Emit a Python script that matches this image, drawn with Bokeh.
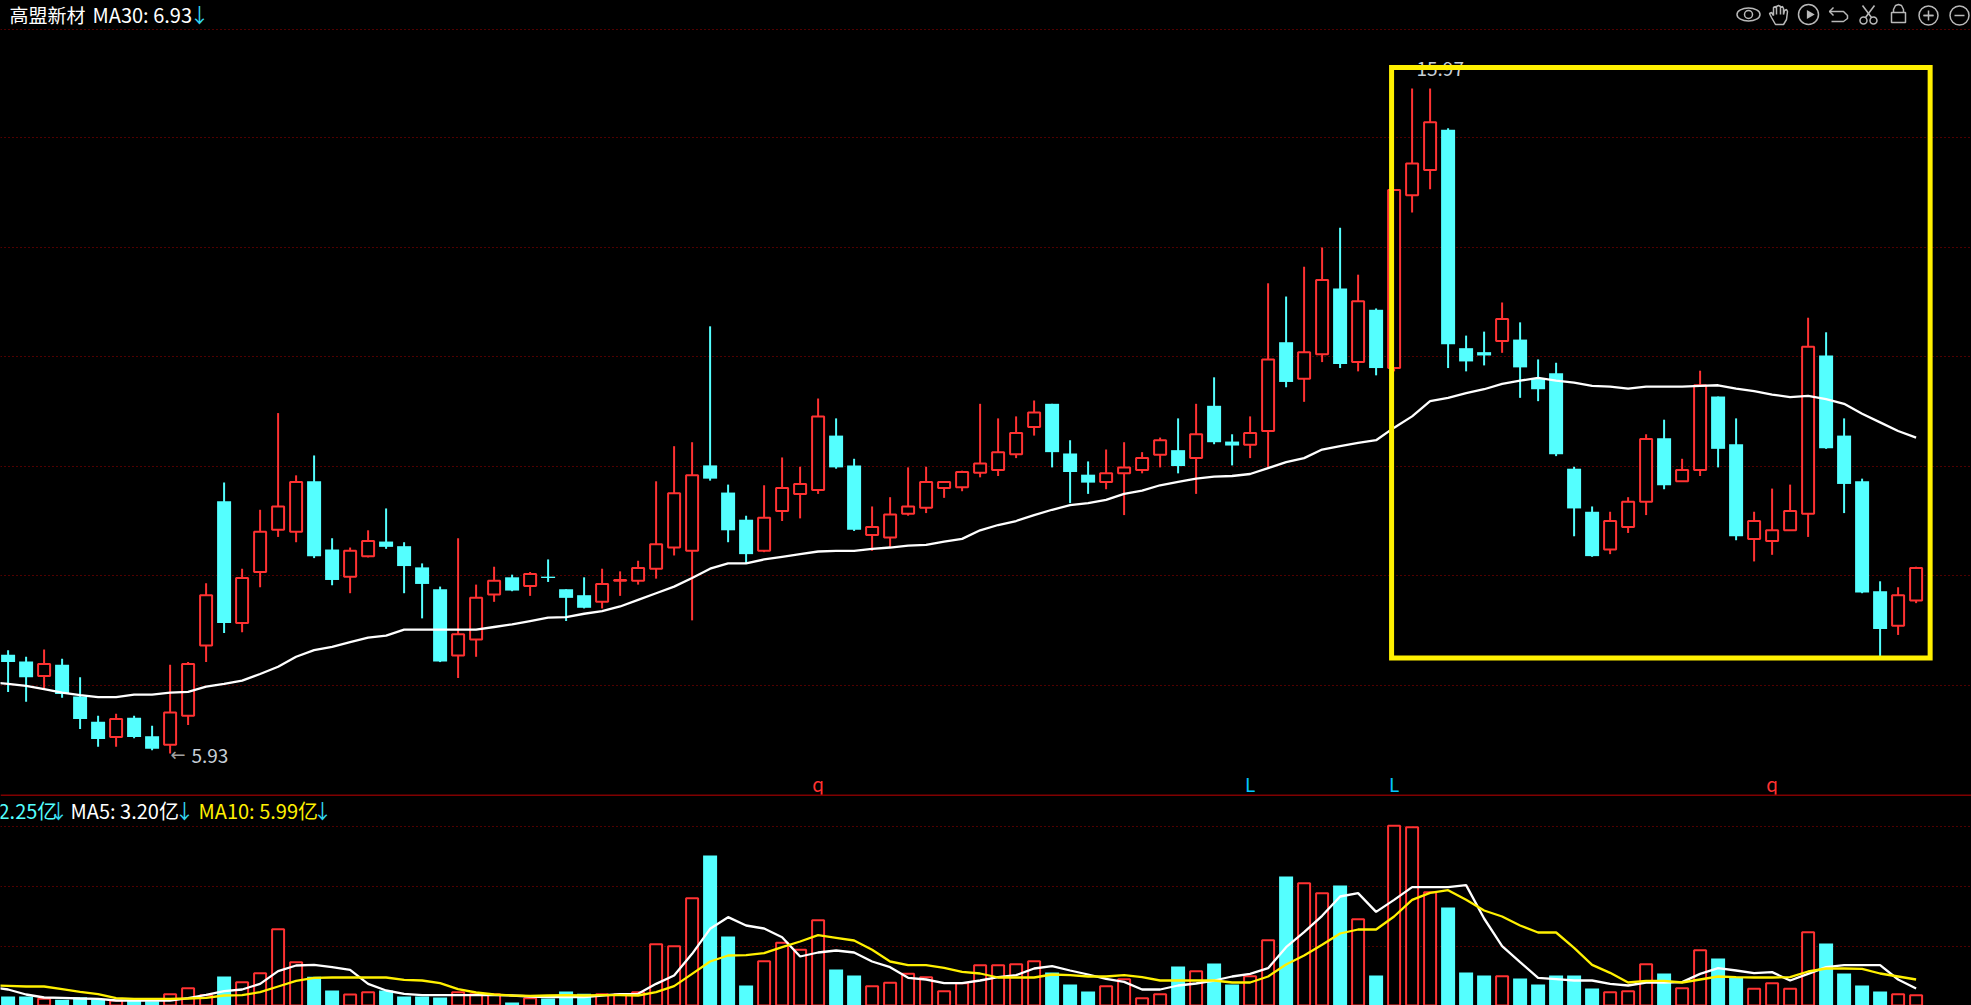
from math import pi
from bokeh.plotting import figure
from bokeh.layouts import column
from bokeh.models import ColumnDataSource, FixedTicker, Range1d, Span
from bokeh.core.properties import value
from bokeh.embed import file_html
from bokeh.resources import INLINE

# ---- data: daily candles ----
opens = [7.42,7.32,7.10,7.27,6.79,6.41,6.18,6.47,6.19,6.06,6.50,7.56,9.74,7.90,8.67,9.31,9.28,10.04,9.01,8.60,8.91,9.13,9.06,8.74,8.41,7.41,7.65,8.33,8.59,8.46,8.60,8.41,8.32,8.22,8.54,8.54,8.72,
         9.04,8.99,10.28,9.87,9.46,8.99,9.59,9.85,9.91,10.73,10.28,9.23,9.19,9.55,9.64,9.94,9.95,10.17,10.21,10.45,10.86,11.21,10.46,10.14,10.03,10.16,10.21,10.44,10.51,10.39,11.18,10.64,10.59,10.80,12.14,11.59,
         11.96,12.95,11.84,12.63,11.75,14.36,14.74,15.35,12.05,11.99,12.16,12.18,
         11.59,11.67,10.23,9.58,9.01,9.35,9.73,10.69,10.04,10.21,11.32,10.60,9.17,9.14,9.30,9.55,11.94,10.73,10.04,8.38,7.86,8.24]
closes = [7.31,7.08,7.28,6.83,6.45,6.15,6.45,6.18,6.00,6.55,7.28,8.32,7.90,8.58,9.28,9.66,10.03,8.91,8.55,8.99,9.14,9.05,8.76,8.49,7.32,7.73,8.28,8.54,8.39,8.64,8.58,8.28,8.13,8.49,8.55,8.73,9.09,
          9.86,10.13,10.08,9.30,8.94,9.49,9.94,10.00,11.02,10.25,9.31,9.35,9.54,9.66,10.03,10.03,10.18,10.31,10.48,10.77,11.08,10.48,10.18,10.02,10.16,10.25,10.39,10.66,10.27,10.75,10.63,10.58,10.77,11.88,11.54,11.99,
          13.08,11.81,12.76,11.75,14.44,14.84,15.46,12.11,11.85,11.94,12.49,11.76,
          11.43,10.45,9.63,8.91,9.44,9.73,10.68,9.98,10.21,11.49,10.53,9.21,9.44,9.30,9.59,12.07,10.54,10.00,8.36,7.81,8.32,8.73]
highs = [7.49,7.39,7.50,7.36,7.08,6.50,6.53,6.50,6.35,7.27,7.31,8.50,10.02,8.72,9.61,11.07,10.13,10.43,9.18,9.04,9.30,9.63,9.12,8.80,8.45,9.18,8.48,8.75,8.63,8.67,8.86,8.41,8.59,8.72,8.68,8.84,10.04,
         10.57,10.63,12.38,9.99,9.52,9.98,10.40,10.26,11.29,10.99,10.38,9.66,9.80,10.25,10.26,10.03,10.20,11.21,10.99,11.02,11.26,11.21,10.66,10.34,10.52,10.63,10.48,10.70,10.99,11.21,11.61,10.75,11.02,13.03,12.83,13.28,
         13.57,13.87,13.16,12.65,14.44,15.97,15.97,15.37,12.24,12.30,12.74,12.44,
         11.88,11.83,10.26,9.66,9.58,9.80,10.75,10.97,10.38,11.71,11.32,10.99,9.58,9.93,9.99,12.51,12.29,10.99,10.08,8.53,8.44,8.75]
lows = [6.86,6.71,6.91,6.77,6.30,6.03,6.03,6.16,5.98,5.93,6.36,7.31,7.75,7.76,8.44,9.20,9.12,8.88,8.47,8.35,8.89,9.02,8.35,7.97,7.31,7.07,7.39,8.22,8.38,8.31,8.52,7.93,8.12,8.12,8.31,8.48,8.57,
        8.92,7.94,10.05,9.12,8.80,8.97,9.44,9.48,9.85,10.23,9.29,8.99,9.04,9.52,9.56,9.79,9.89,10.10,10.12,10.39,10.73,10.25,9.71,9.85,9.92,9.53,10.16,10.25,10.16,9.85,10.60,10.28,10.39,10.25,11.46,11.24,
        11.84,11.75,11.70,11.64,11.70,14.10,14.45,11.75,11.70,11.79,11.98,11.30,
        11.25,10.42,9.21,8.90,8.94,9.26,9.53,9.92,10.03,10.12,10.25,9.15,8.83,8.93,9.29,9.20,10.53,9.56,8.35,7.40,7.72,8.20]
# leading value belongs to the session just before the visible window
ma30 = [7.01,
        6.98,6.95,6.90,6.85,6.81,6.78,6.78,6.82,6.82,6.85,6.86,6.94,6.98,7.03,7.13,7.24,7.39,7.49,7.54,7.61,7.68,7.71,7.80,7.80,7.80,7.80,7.80,7.84,7.88,7.93,7.98,7.99,8.04,8.08,8.15,8.25,8.35,
        8.45,8.58,8.72,8.80,8.80,8.86,8.90,8.94,8.98,8.99,8.99,9.02,9.04,9.07,9.08,9.13,9.17,9.30,9.38,9.44,9.53,9.61,9.68,9.71,9.76,9.85,9.90,9.98,10.03,10.08,10.11,10.12,10.15,10.24,10.33,10.39,
        10.52,10.57,10.62,10.66,10.85,11.02,11.25,11.30,11.37,11.43,11.51,11.56,11.60,11.56,11.53,11.48,11.47,11.44,11.47,11.47,11.47,11.48,11.49,11.44,11.40,11.35,11.31,11.33,11.28,11.21,11.06,10.93,10.80,10.70]
# ---- data: turnover (亿) ----
volumes = [1.89,1.89,1.40,1.19,1.75,1.19,1.05,1.05,0.91,2.38,3.64,2.17,6.09,4.90,6.79,16.03,9.10,6.02,3.15,2.31,2.80,3.15,1.89,1.89,1.68,2.80,2.38,2.38,0.63,1.54,1.47,2.94,2.45,2.38,2.38,2.80,12.88,
           12.46,22.54,31.50,14.49,4.20,9.31,13.16,11.69,17.92,7.56,6.30,4.06,4.76,6.65,5.95,3.01,4.69,8.47,8.47,8.68,9.31,6.93,4.41,2.94,4.06,5.53,1.54,2.38,8.19,7.21,8.82,4.41,6.16,13.72,27.09,25.69,
           23.59,25.20,18.13,6.30,37.73,37.45,23.80,20.58,6.93,6.30,6.16,5.67,4.41,6.30,6.30,3.57,2.80,3.01,8.68,6.72,3.64,11.62,9.87,5.95,3.50,4.69,3.50,15.40,13.02,6.72,4.20,2.94,2.38,2.17]
vol_ma5 = [3.85,
           3.36,2.31,1.68,1.61,1.47,1.40,1.05,1.05,1.05,1.05,1.54,2.24,3.01,3.36,4.55,7.21,8.40,8.54,8.05,7.49,4.55,3.15,2.45,2.17,2.17,2.17,2.17,2.17,2.10,1.89,1.75,1.75,1.75,2.10,2.38,2.45,4.55,
           6.30,10.85,16.10,18.55,16.80,16.17,14.35,10.29,11.13,11.55,11.13,9.24,8.05,5.81,5.46,4.69,4.69,5.25,5.95,6.37,7.77,8.26,7.35,6.51,5.60,4.97,3.36,3.36,4.20,4.62,5.25,6.09,6.65,7.84,12.25,15.40,
           18.83,22.89,23.59,19.67,22.19,24.85,24.85,24.85,25.27,18.27,12.46,9.10,5.81,5.53,5.25,5.25,4.55,4.20,4.83,4.83,4.90,6.65,7.84,7.35,6.79,7.00,5.25,6.65,8.05,8.47,8.47,8.47,5.46,3.57]
vol_ma10 = [4.27,
            4.13,3.99,3.99,3.43,2.87,2.38,1.54,1.40,1.40,1.40,1.47,1.61,2.10,2.17,2.80,3.99,5.18,5.81,5.88,5.88,5.88,5.88,5.39,5.25,4.69,3.43,2.73,2.31,2.10,2.03,2.10,2.17,2.10,2.17,2.17,2.10,2.80,
            4.06,6.65,9.24,10.50,10.57,10.99,12.25,13.44,14.77,14.21,13.65,11.69,9.24,8.47,8.47,7.91,7.07,6.72,5.88,5.88,5.88,6.51,6.37,6.09,6.09,6.37,5.95,5.25,5.25,5.25,5.25,4.83,4.83,6.09,8.61,10.50,
            12.74,15.12,15.96,15.96,18.69,22.19,23.66,24.22,22.19,19.95,18.69,16.80,15.33,15.33,12.11,8.54,6.86,4.83,5.18,5.18,4.83,5.46,6.09,5.95,5.88,5.88,5.95,7.14,7.77,7.77,7.70,6.72,6.09,5.46]
# ---- data: marks and labels ----
signal_index = [45, 69, 77, 98]
signal_text = ["q", "L", "L", "q"]
signal_color = ["#ff3232", "#00c8ff", "#00c8ff", "#ff3232"]
price_grid = [16.86, 15.23, 13.57, 11.92, 10.26, 8.61, 6.95]
volume_grid = [12.32, 24.92, 37.52]
low_label = "5.93"
high_label = "15.97"
box_left, box_right, box_top, box_bottom = [76.86], [106.78], [16.29], [7.37]

RED, CYAN, GRID = "#ff3232", "#54ffff", "#a00000"
FONT = value("Noto Sans CJK SC")
W, H1, H2 = 1971, 796, 209
N = len(opens)
idx = list(range(N))
up = [c >= o for o, c in zip(opens, closes)]

x_start, x_end = (0 - 7.6) / 18, (W - 7.6) / 18
P_TOP, P_STEP = 17.30, 0.0151
V_STEP = 0.21
def X(px): return (px - 7.6) / 18
def Y(py): return P_TOP - py * P_STEP
def V(py): return (1005 - py) * V_STEP

def base_fig(h, y0, y1):
    f = figure(width=W, height=h, x_range=Range1d(x_start, x_end), y_range=Range1d(y0, y1),
               output_backend="svg", toolbar_location=None, min_border=0,
               background_fill_color="#000000", border_fill_color="#000000", outline_line_color=None,
               styles={"background-color": "#000000"})
    f.xaxis.visible = False
    f.yaxis.visible = False
    f.xgrid.visible = False
    f.ygrid.grid_line_color = GRID
    f.ygrid.grid_line_dash = "1 3"
    f.ygrid.grid_line_width = 1
    return f

def label(f, px, y, text, color, size="20px", font=FONT, align="left", angle=0):
    f.text(x=[X(px)], y=[y], text=[text], text_color=color, text_font=font, text_font_size=size,
           text_align=align, text_baseline="middle", angle=angle)

def icon_path(f, pts, color):
    f.line(x=[X(a) for a, _ in pts], y=[Y(b) for _, b in pts], line_color=color, line_width=1.5)

# ---------- price pane ----------
p1 = base_fig(H1, Y(H1), P_TOP)
p1.ygrid.ticker = FixedTicker(ticks=price_grid)

red = ColumnDataSource(dict(x=[i for i in idx if up[i]],
                            top=[closes[i] for i in idx if up[i]], bottom=[opens[i] for i in idx if up[i]],
                            high=[highs[i] for i in idx if up[i]], low=[lows[i] for i in idx if up[i]]))
cyan = ColumnDataSource(dict(x=[i for i in idx if not up[i]],
                             top=[opens[i] for i in idx if not up[i]], bottom=[closes[i] for i in idx if not up[i]],
                             high=[highs[i] for i in idx if not up[i]], low=[lows[i] for i in idx if not up[i]]))
p1.segment(x0="x", x1="x", y0="low", y1="high", source=red, line_color=RED, line_width=2)
p1.segment(x0="x", x1="x", y0="low", y1="high", source=cyan, line_color=CYAN, line_width=2)
p1.vbar(x="x", top="top", bottom="bottom", width=12 / 18, source=red, fill_color="#000000",
        line_color=RED, line_width=2)
p1.vbar(x="x", top="top", bottom="bottom", width=14 / 18, source=cyan, fill_color=CYAN, line_color=None)
p1.line(x=list(range(-1, N)), y=ma30, line_color="#ffffff", line_width=2.3)

# extreme price notes
label(p1, 191, Y(755), low_label, "#c8d0d8", size="19px")
label(p1, 170, Y(754), "←", "#a0a0a0", size="18px", font=value("DejaVu Sans"))
label(p1, 1416, Y(68), high_label, "#c8d0d8", size="19px")

# signals
p1.text(x=signal_index, y=[Y(783)] * 4, text=signal_text, text_color=signal_color, text_font=FONT,
        text_font_size="19px", text_align="center", text_baseline="middle")

# yellow box
p1.quad(left=box_left, right=box_right, top=box_top, bottom=box_bottom, fill_alpha=0,
        line_color="#fff000", line_width=5, line_join="miter")

# separator
p1.add_layout(Span(location=Y(795), dimension="width", line_color="#800000", line_width=2))

# title row
label(p1, 9, Y(14), "高盟新材", "#ffffff", size="19px")
label(p1, 92, Y(14), "MA30: 6.93", "#ffffff")
label(p1, 199, Y(14), "↓", "#33d6f0", align="center")

# tool icons
ICON = "#b8b8b8"
iy = Y(14)
p1.ellipse(x=[X(1748)], y=[iy], width=23, height=13, width_units="screen", height_units="screen",
           fill_alpha=0, line_color=ICON, line_width=1.5)
p1.scatter(x=[X(1748)], y=[iy], size=8, marker="circle", fill_alpha=0, line_color=ICON, line_width=1.5)
icon_path(p1, [(1771,17),(1769,13),(1771,12),(1773,15),(1773,7),(1775,6),(1776,8),(1776,14),(1776,6),(1778,5),
               (1780,6),(1780,14),(1780,7),(1782,6),(1783,8),(1783,14),(1784,10),(1786,9),(1787,11),(1786,19),
               (1783,24),(1775,24),(1771,17)], ICON)
p1.scatter(x=[X(1808)], y=[iy], size=20, marker="circle", fill_alpha=0, line_color=ICON, line_width=1.5)
p1.scatter(x=[X(1809)], y=[iy], size=9, marker="triangle", angle=-pi / 2, fill_color=ICON, line_color=None)
icon_path(p1, [(1833,7),(1829,11),(1833,15)], ICON)
icon_path(p1, [(1829,11),(1843,11),(1847,15),(1847,18),(1843,21),(1831,21)], ICON)
icon_path(p1, [(1862,5),(1871,17)], ICON)
icon_path(p1, [(1874,5),(1865,17)], ICON)
p1.scatter(x=[X(1863), X(1873)], y=[Y(20), Y(20)], size=7, marker="circle", fill_alpha=0, line_color=ICON, line_width=1.5)
p1.rect(x=[X(1898)], y=[Y(17)], width=14, height=10, width_units="screen", height_units="screen",
        fill_alpha=0, line_color=ICON, line_width=1.5)
icon_path(p1, [(1893,12),(1893,9),(1895,5),(1898,4),(1901,5),(1903,9),(1903,12)], ICON)
for cx in (1928, 1959):
    p1.scatter(x=[X(cx)], y=[Y(15)], size=19, marker="circle", fill_alpha=0, line_color=ICON, line_width=1.5)
    p1.scatter(x=[X(cx)], y=[Y(15)], size=10, marker="dash", line_color=ICON, line_width=1.5)
p1.scatter(x=[X(1928)], y=[Y(15)], size=10, marker="cross", line_color=ICON, line_width=1.5)

# ---------- volume pane ----------
p2 = base_fig(H2, 0, V(796))
p2.ygrid.ticker = FixedTicker(ticks=volume_grid)
vred = ColumnDataSource(dict(x=[i for i in idx if up[i]], top=[volumes[i] for i in idx if up[i]],
                             bottom=[-1] * sum(up)))
vcyan = ColumnDataSource(dict(x=[i for i in idx if not up[i]], top=[volumes[i] for i in idx if not up[i]],
                              bottom=[0] * (N - sum(up))))
p2.vbar(x="x", top="top", bottom="bottom", width=12 / 18, source=vred, fill_color="#000000",
        line_color=RED, line_width=2)
p2.vbar(x="x", top="top", bottom="bottom", width=14 / 18, source=vcyan, fill_color=CYAN, line_color=None)
p2.line(x=list(range(-1, N)), y=vol_ma5, line_color="#ffffff", line_width=2.3)
p2.line(x=list(range(-1, N)), y=vol_ma10, line_color="#fff000", line_width=2.3)

vy = V(810)
label(p2, -2, vy, "2.25亿", CYAN)
label(p2, 58, vy, "↓", "#33d6f0", align="center")
label(p2, 70, vy, "MA5: 3.20亿", "#ffffff")
label(p2, 184, vy, "↓", "#33d6f0", align="center")
label(p2, 198, vy, "MA10: 5.99亿", "#fff000")
label(p2, 322, vy, "↓", "#33d6f0", align="center")

root = column(p1, p2, spacing=0, styles={"position": "fixed", "left": "0px", "top": "0px",
                                         "background-color": "#000000"})
open("out.html", "w").write(file_html(root, INLINE))
